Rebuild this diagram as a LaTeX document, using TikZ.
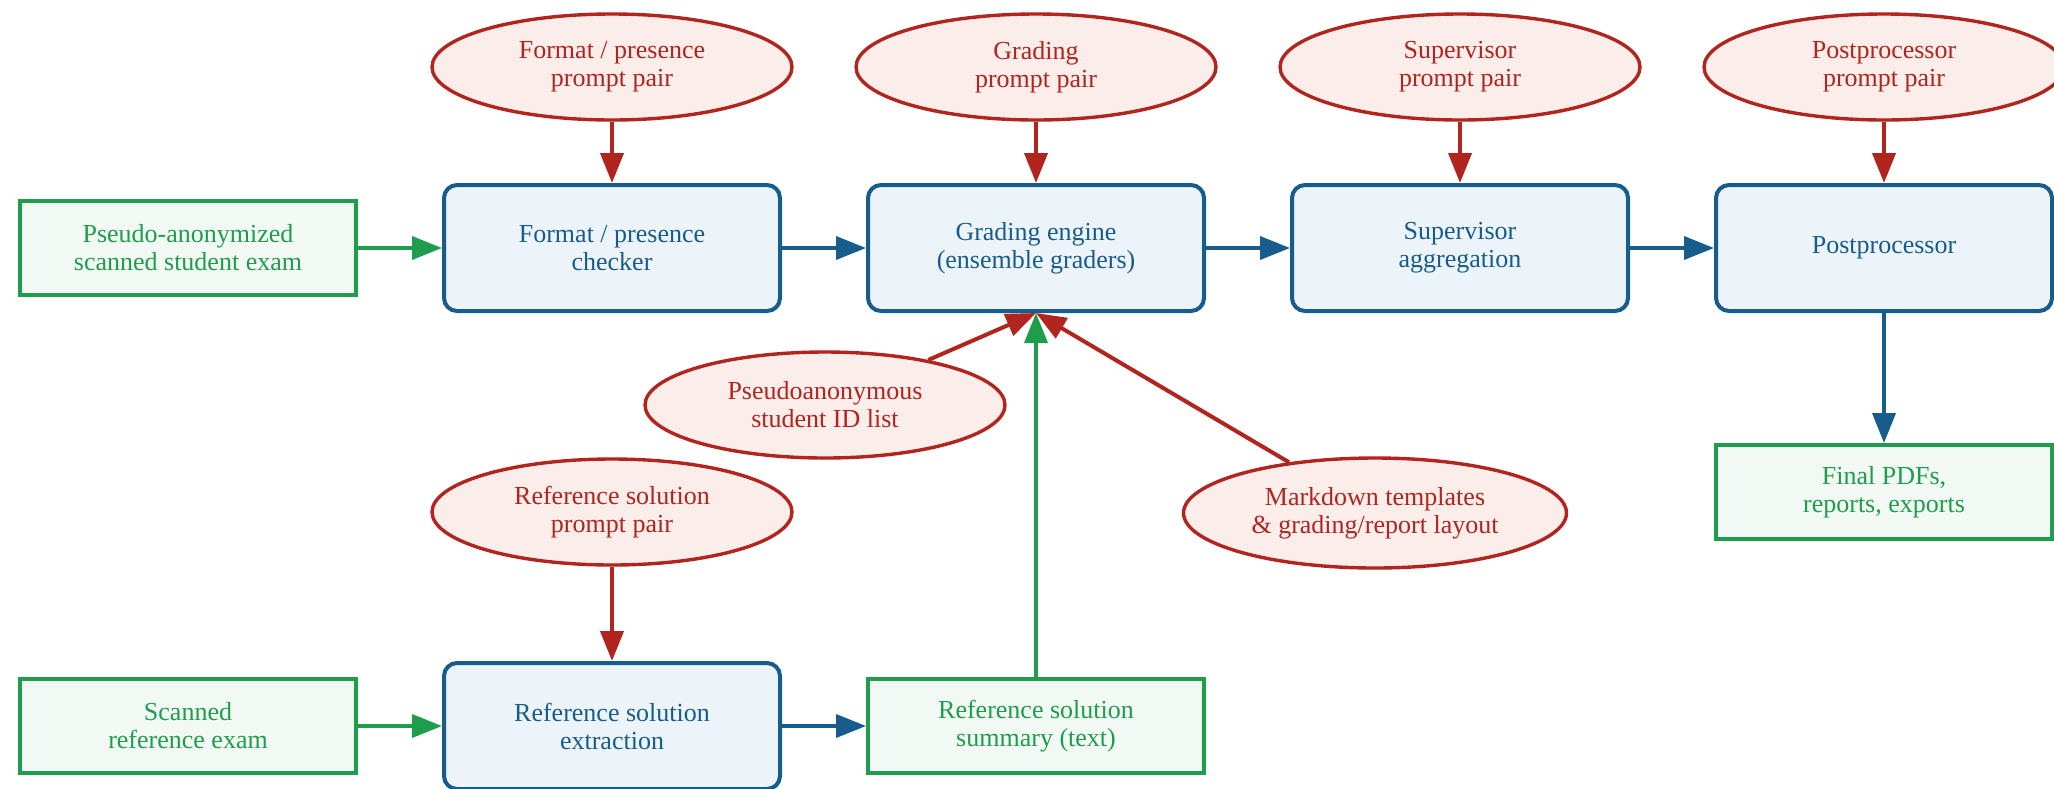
\documentclass[tikz,border=0pt]{standalone}
\usepackage{fontspec}
\setmainfont{Liberation Serif}
\usetikzlibrary{arrows.meta,shapes.geometric,calc}
\definecolor{cred}{RGB}{178,36,30}
\definecolor{credfill}{RGB}{250,237,234}
\definecolor{cblue}{RGB}{22,92,140}
\definecolor{cbluefill}{RGB}{236,244,249}
\definecolor{cgreen}{RGB}{30,158,76}
\definecolor{cgreenfill}{RGB}{242,248,243}
\begin{document}
\begin{tikzpicture}[x=0.5pt,y=-0.5pt,
  every node/.style={font=\fontsize{13}{14}\selectfont, align=center},
  procbox/.style={draw=cblue, fill=cbluefill, line width=2pt, rounded corners=6.5pt,
    minimum width=168pt, minimum height=63pt, text=cblue},
  databox/.style={draw=cgreen, fill=cgreenfill, line width=2pt,
    minimum width=168pt, minimum height=47pt, text=cgreen},
  promptell/.style={ellipse, draw=cred, fill=credfill, line width=1.7pt,
    minimum width=180pt, minimum height=53pt, inner sep=0pt, text=cred},
  redarr/.style={draw=cred, line width=2pt, -{Triangle[length=15pt,width=11.5pt]}},
  bluearr/.style={draw=cblue, line width=1.8pt, -{Triangle[length=15pt,width=11.5pt]}},
  greenarr/.style={draw=cgreen, line width=1.8pt, -{Triangle[length=15pt,width=11.5pt]}}
]
\useasboundingbox (0,0) rectangle (2054,788);

% main row
\node[databox] (in1) at (188,248) {Pseudo-anonymized\\scanned student exam};
\node[procbox] (fmt) at (612,248) {Format / presence\\checker};
\node[procbox] (grade) at (1036,248) {Grading engine\\(ensemble graders)};
\node[procbox] (sup) at (1460,248) {Supervisor\\aggregation};
\node[procbox] (post) at (1884,248) {Postprocessor};

% prompt ellipses
\node[promptell] (efmt) at (612,67) {Format / presence\\prompt pair};
\node[promptell] (egrade) at (1036,67) {Grading\\prompt pair};
\node[promptell] (esup) at (1460,67) {Supervisor\\prompt pair};
\node[promptell] (epost) at (1884,67) {Postprocessor\\prompt pair};

\node[promptell] (pseudo) at (825,405) {Pseudoanonymous\\student ID list};
\node[promptell] (eref) at (612,512) {Reference solution\\prompt pair};
\node[promptell, minimum width=191.5pt, minimum height=55pt] (md) at (1375,513)
  {Markdown templates\\\& grading/report layout};

\node[databox] (final) at (1884,492) {Final PDFs,\\reports, exports};

% bottom row
\node[databox] (in2) at (188,726) {Scanned\\reference exam};
\node[procbox] (ext) at (612,726) {Reference solution\\extraction};
\node[databox] (summ) at (1036,726) {Reference solution\\summary (text)};

% connectors
\draw[redarr] (efmt) -- (fmt);
\draw[redarr] (egrade) -- (grade);
\draw[redarr] (esup) -- (sup);
\draw[redarr] (epost) -- (post);
\draw[redarr] (eref) -- (ext);

\draw[greenarr] (in1) -- (fmt);
\draw[bluearr] (fmt) -- (grade);
\draw[bluearr] (grade) -- (sup);
\draw[bluearr] (sup) -- (post);
\draw[bluearr] (post) -- (final);

\draw[greenarr] (in2) -- (ext);
\draw[bluearr] (ext) -- (summ);

\draw[greenarr] (summ) -- (grade.south);
\draw[redarr] (pseudo) -- (grade.south);
\draw[redarr] (md) -- (grade.south);
\end{tikzpicture}
\end{document}
